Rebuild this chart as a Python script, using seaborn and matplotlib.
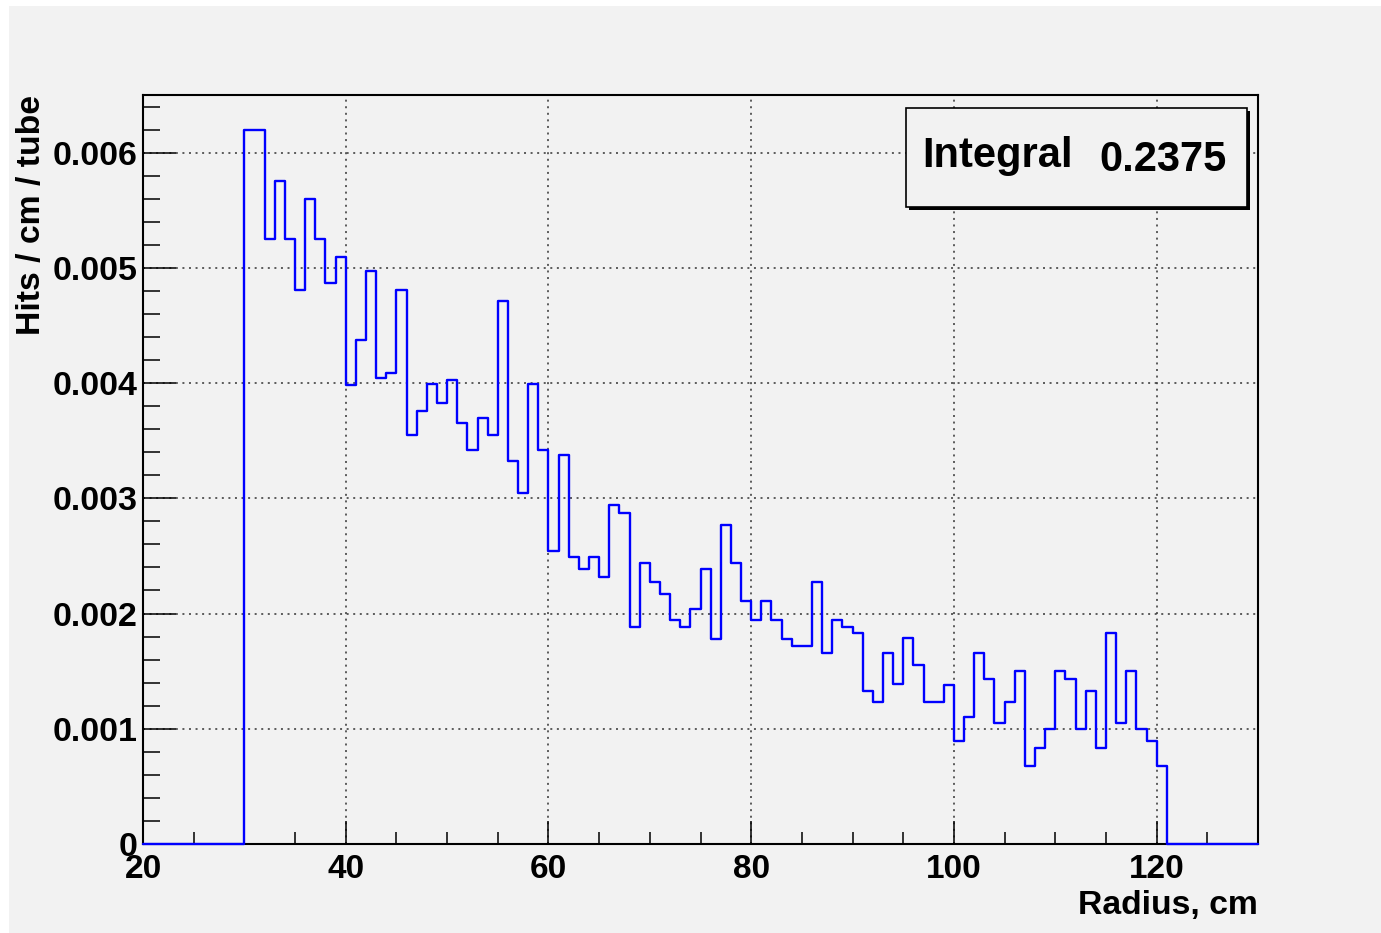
import numpy as np
import pandas as pd
import matplotlib
matplotlib.use("Agg")
import matplotlib.pyplot as plt
import seaborn as sns
from matplotlib.patches import Rectangle
from matplotlib.ticker import MultipleLocator, FuncFormatter

# 1 cm bins over the whole axis range
X_MIN, X_MAX = 20, 130
BIN_WIDTH = 1

# empty bins before and after the filled range
empty_low = [0.0] * 10    # 20..30 cm
empty_high = [0.0] * 9    # 121..130 cm

# hits / cm / tube, bins 30..121 cm
hit_density = [
    0.00620, 0.00620, 0.00525, 0.00575, 0.00525, 0.00481, 0.00560, 0.00525, 0.00487, 0.00509,
    0.00398, 0.00437, 0.00497, 0.00404, 0.00409, 0.00481, 0.00355, 0.00376, 0.00399, 0.00383,
    0.00403, 0.00365, 0.00342, 0.00370, 0.00355, 0.00471, 0.00332, 0.00305, 0.00399, 0.00342,
    0.00254, 0.00338, 0.00249, 0.00239, 0.00249, 0.00232, 0.00294, 0.00287, 0.00188, 0.00244,
    0.00227, 0.00217, 0.00194, 0.00188, 0.00204, 0.00239, 0.00178, 0.00277, 0.00244, 0.00211,
    0.00194, 0.00211, 0.00194, 0.00178, 0.00172, 0.00172, 0.00227, 0.00166, 0.00194, 0.00188,
    0.00183, 0.00133, 0.00123, 0.00166, 0.00139, 0.00179, 0.00155, 0.00123, 0.00123, 0.00138,
    0.00089, 0.00110, 0.00166, 0.00143, 0.00105, 0.00123, 0.00150, 0.00068, 0.00083, 0.00100,
    0.00150, 0.00143, 0.00100, 0.00133, 0.00083, 0.00183, 0.00105, 0.00150, 0.00100, 0.00089,
    0.00068,
]

integral_text = "0.2375"
x_label = "Radius, cm"
y_label = "Hits / cm / tube"

BG = "#f2f2f2"

sns.set_style("ticks")
plt.rcParams["font.family"] = ["Liberation Sans", "DejaVu Sans"]
plt.rcParams["font.weight"] = "bold"
plt.rcParams["text.color"] = "black"
plt.rcParams["xtick.color"] = "black"
plt.rcParams["ytick.color"] = "black"

edges = np.arange(X_MIN, X_MAX + BIN_WIDTH, BIN_WIDTH)
centers = edges[:-1] + BIN_WIDTH / 2
df = pd.DataFrame({
    "radius": centers,
    "hits": empty_low + hit_density + empty_high,
})

W, H = 1381, 933
fig = plt.figure(figsize=(W / 100, H / 100), dpi=100, facecolor="white")
fig.patches.append(Rectangle((9 / W, 0), 1 - 9 / W, 1 - 6 / H,
                             transform=fig.transFigure, facecolor=BG,
                             edgecolor="none", zorder=-10))

ax = fig.add_axes([143 / W, 1 - 844 / H, (1258 - 143) / W, (844 - 95) / H])
ax.set_facecolor(BG)

sns.histplot(data=df, x="radius", weights="hits", binwidth=BIN_WIDTH,
             binrange=(X_MIN, X_MAX), element="step", fill=False,
             color="#0000ff", linewidth=1.7, ax=ax)
for line in ax.lines:
    line.set_clip_on(False)
    line.set_zorder(5)

ax.set_xlim(X_MIN, X_MAX)
ax.set_ylim(0, 0.0065)

ax.xaxis.set_major_locator(MultipleLocator(20))
ax.xaxis.set_minor_locator(MultipleLocator(5))
ax.yaxis.set_major_locator(MultipleLocator(0.001))
ax.yaxis.set_minor_locator(MultipleLocator(0.0002))
ax.yaxis.set_major_formatter(FuncFormatter(lambda v, p: "0" if abs(v) < 1e-9 else f"{v:.3f}"))

ax.grid(True, which="major", color="#333333", linestyle=(0, (1.3, 3.0)), linewidth=1.1)

for side in ["top", "bottom", "left", "right"]:
    ax.spines[side].set_visible(True)
    ax.spines[side].set_linewidth(1.5)
    ax.spines[side].set_color("black")

ax.tick_params(axis="x", which="major", direction="in", length=16.5, width=1.1,
               labelsize=24, pad=7, top=False)
ax.tick_params(axis="x", which="minor", direction="in", length=8.5, width=1.1, top=False)
ax.tick_params(axis="y", which="major", direction="in", length=24, width=1.1,
               labelsize=24.5, pad=4, right=False)
ax.tick_params(axis="y", which="minor", direction="in", length=12, width=1.1, right=False)
for lab in ax.get_xticklabels() + ax.get_yticklabels():
    lab.set_fontweight("bold")

ax.set_xlabel("")
ax.set_ylabel("")
fig.text(1258 / W, 1 - 914 / H, x_label, ha="right", va="baseline",
         fontsize=24.3, fontweight="bold")
fig.text(32 / W, 1 - 95 / H, y_label, ha="center", va="top", rotation=90,
         fontsize=24.3, fontweight="bold")

# stats box with shadow
bx0, by0, bx1, by1 = 906, 108, 1247, 207
sh = 3
fig.patches.append(Rectangle(((bx0 + sh) / W, 1 - (by1 + sh) / H), (bx1 - bx0) / W,
                             (by1 - by0) / H, transform=fig.transFigure,
                             facecolor="black", edgecolor="none", zorder=10))
fig.patches.append(Rectangle((bx0 / W, 1 - by1 / H), (bx1 - bx0) / W, (by1 - by0) / H,
                             transform=fig.transFigure, facecolor=BG,
                             edgecolor="black", linewidth=1.2, zorder=11))
fig.text(922 / W, 1 - 156 / H, "Integral", ha="left", va="center",
         fontsize=30, fontweight="bold", zorder=12)
fig.text(1227 / W, 1 - 160 / H, integral_text, ha="right", va="center",
         fontsize=30, fontweight="bold", zorder=12)

fig.savefig("out.png", dpi=100, facecolor=fig.get_facecolor())
